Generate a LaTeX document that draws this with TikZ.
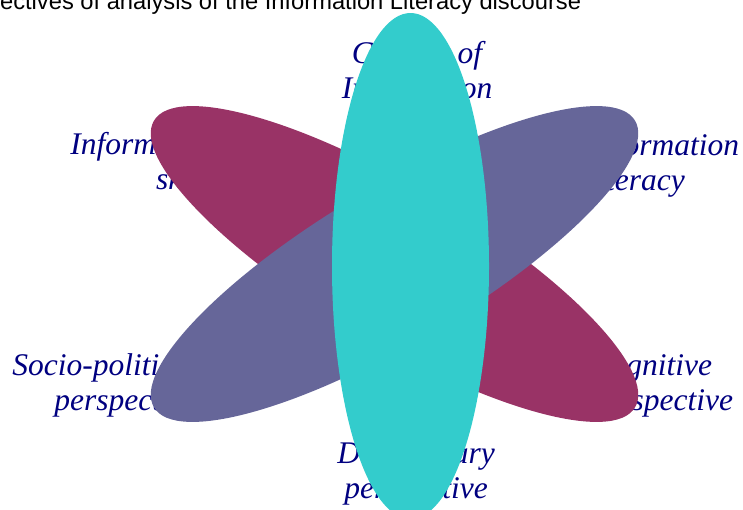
\documentclass[tikz,border=0pt]{standalone}
\usepackage{fontspec}
\setmainfont{Liberation Serif}
\newfontfamily\titlefont{Liberation Sans}
\definecolor{petalA}{RGB}{153,51,102}
\definecolor{petalB}{RGB}{102,102,153}
\definecolor{petalC}{RGB}{51,204,204}
\definecolor{lbl}{RGB}{0,0,128}
\tikzset{
  lab/.style={inner sep=0pt, text=lbl, font=\fontsize{31.5}{35}\selectfont\itshape},
  ttl/.style={inner sep=0pt, text=black, font=\titlefont\fontsize{23.7}{27}\selectfont},
}
\begin{document}
\begin{tikzpicture}[x=1pt,y=-1pt]
\useasboundingbox (0,0) rectangle (743,509);
\node[ttl, anchor=base west] (title) at (-62,9) {Perspectives of analysis of the Information Literacy discourse};
% labels
\node[lab, anchor=base] (t1) at (417,63) {Context of};
\node[lab, anchor=base] (t2) at (417,98) {Information};
\node[lab, anchor=base east] (ul1) at (221,154) {Information};
\node[lab, anchor=base east] (ul2) at (221,189) {skills};
\node[lab, anchor=base west] (ur1) at (588.5,155) {Information};
\node[lab, anchor=base west] (ur2) at (588.5,190) {literacy};
\node[lab, anchor=base east] (ll1) at (198,375) {Socio-political};
\node[lab, anchor=base east] (ll2) at (198,410) {perspective};
\node[lab, anchor=base west] (lr1) at (589.5,375) {Cognitive};
\node[lab, anchor=base west] (lr2) at (589.5,410) {perspective};
\node[lab, anchor=base] (b1) at (416,463) {Disciplinary};
\node[lab, anchor=base] (b2) at (416,498) {perspective};
% petals
\fill[petalA, rotate around={-30.8:(394.5,264)}] (394.5,264) ellipse [x radius=280pt, y radius=77pt];
\fill[petalB, rotate around={30.8:(394.5,264)}] (394.5,264) ellipse [x radius=280pt, y radius=77pt];
\fill[petalC] (410.5,266) ellipse [x radius=78.5pt, y radius=253pt];
\end{tikzpicture}
\end{document}
